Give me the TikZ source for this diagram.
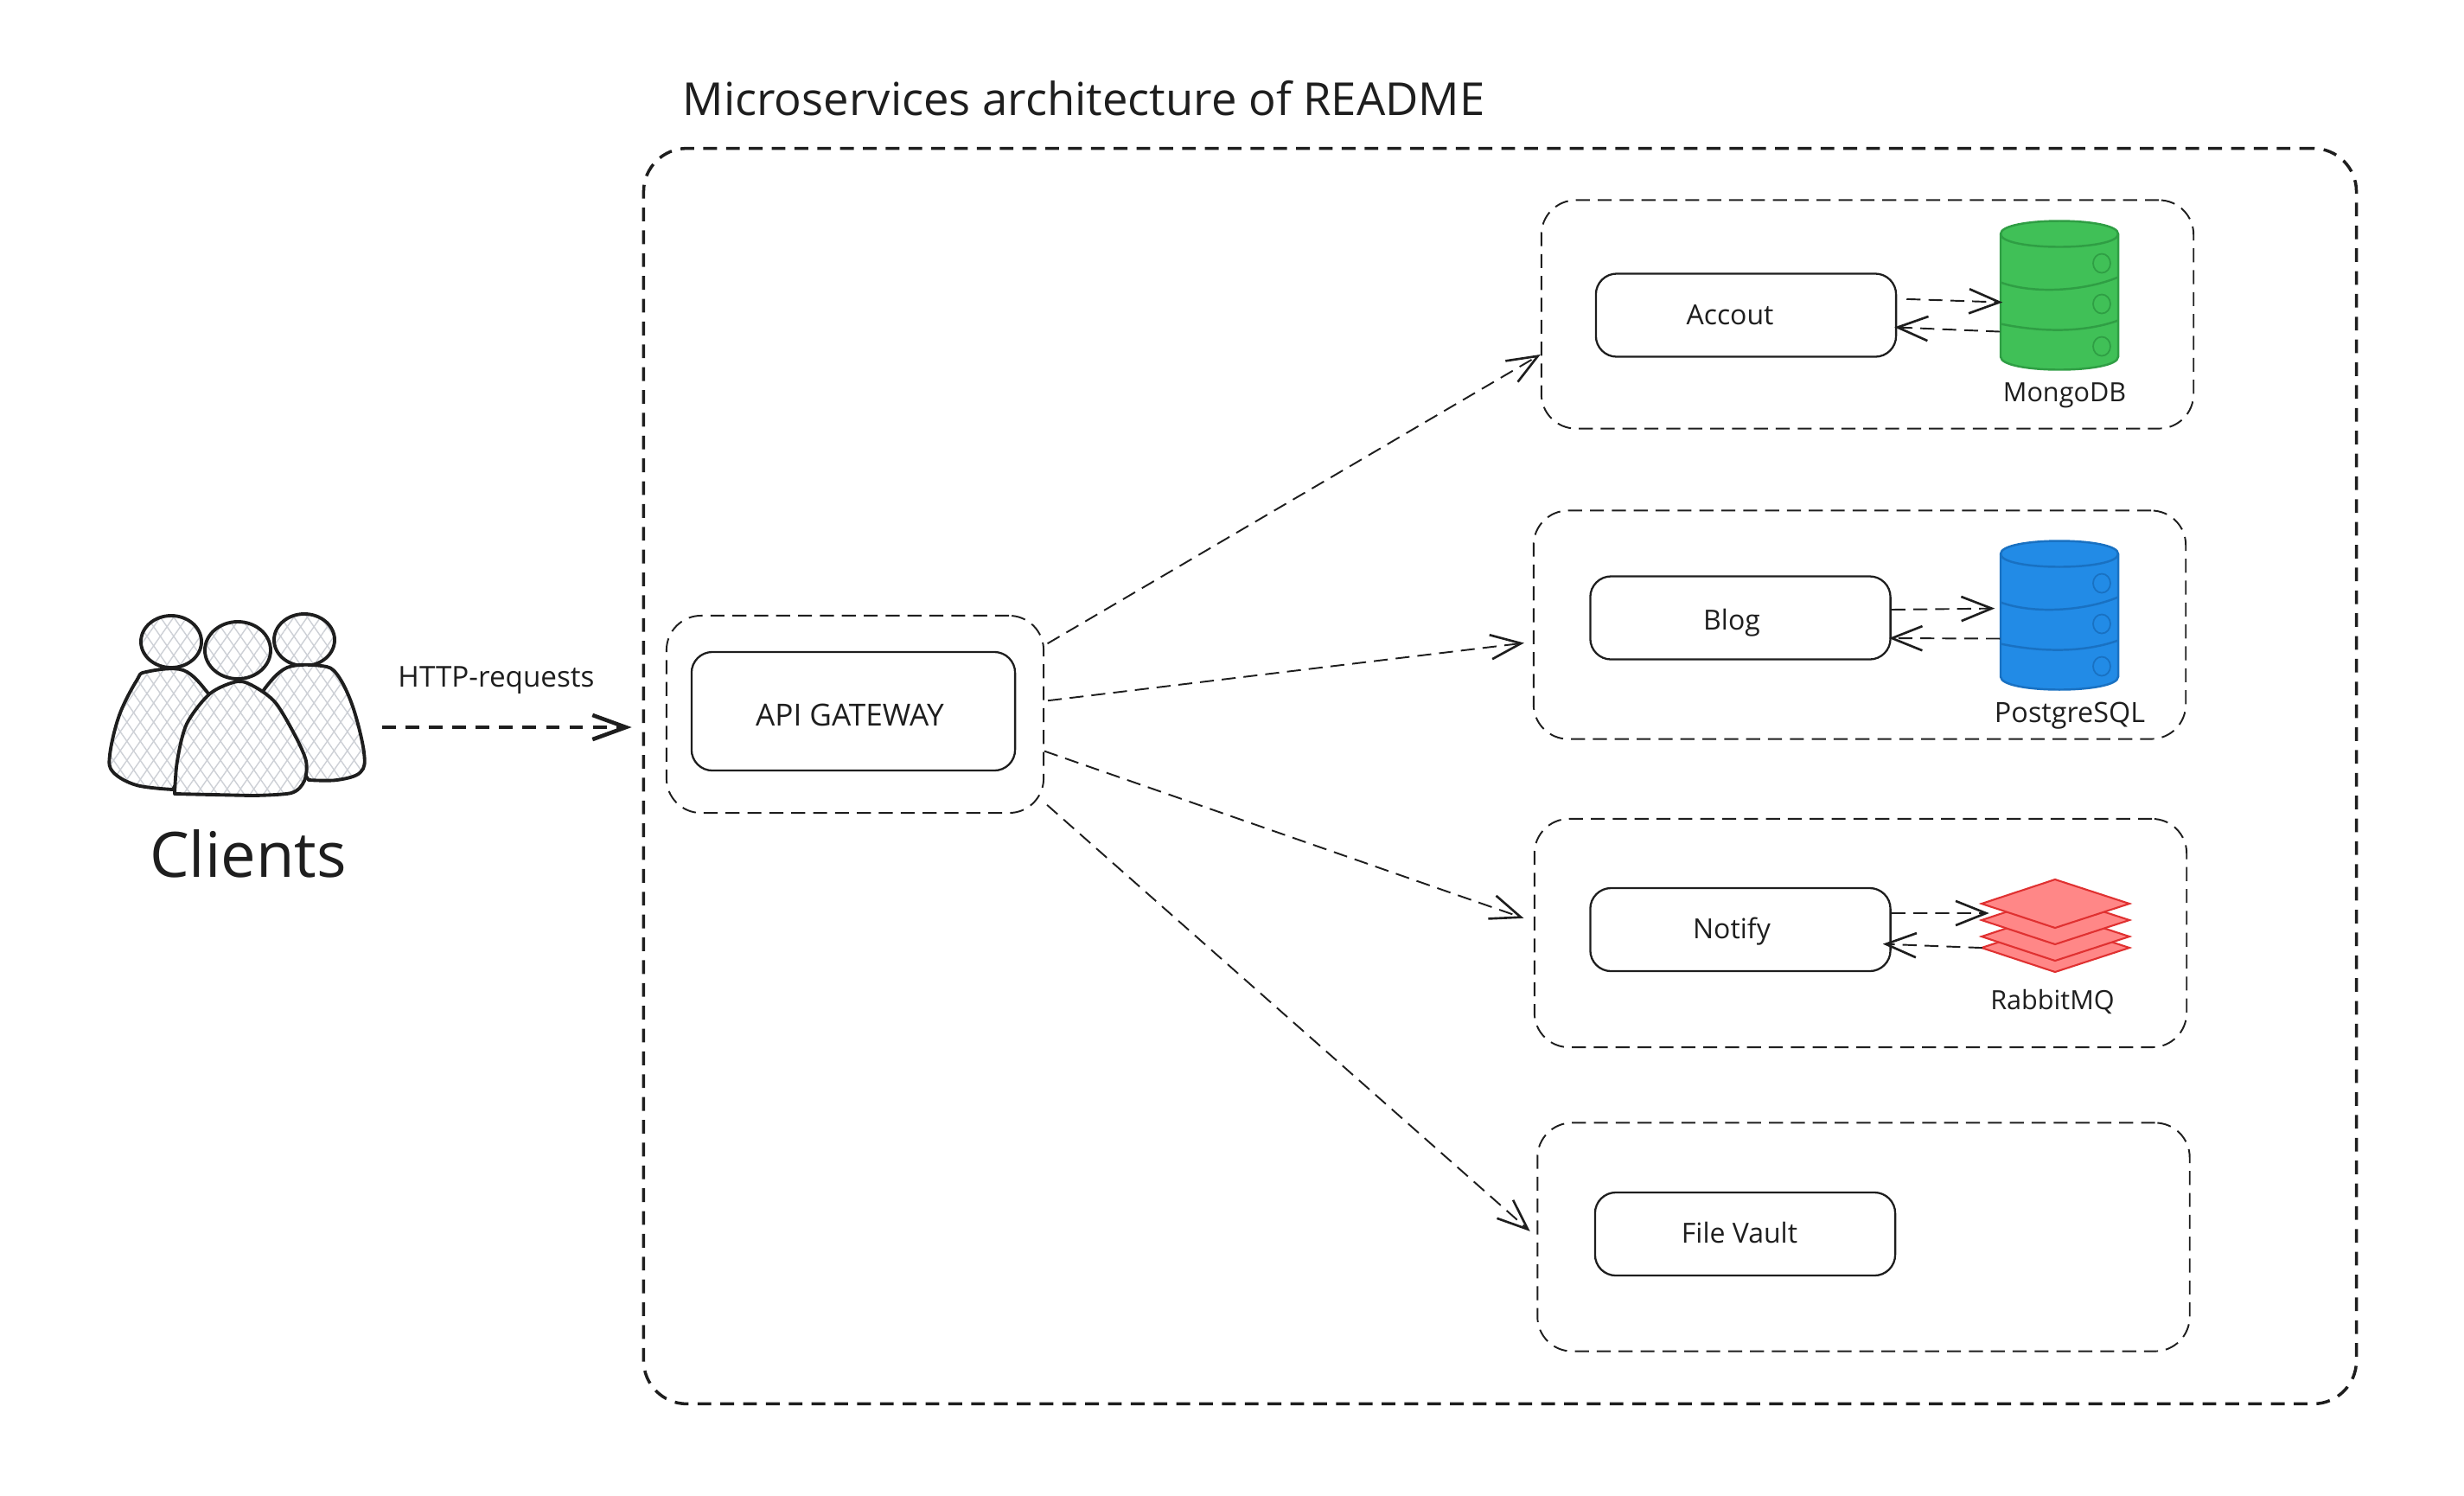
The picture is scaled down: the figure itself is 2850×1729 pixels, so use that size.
\documentclass[tikz,border=0pt]{standalone}
\usepackage{fontspec}
\setmainfont{Open Sans}
\usepackage{xcolor}
\usetikzlibrary{arrows.meta,patterns.meta}
\definecolor{inkline}{HTML}{1E1E1E}
\definecolor{mongofill}{HTML}{40C057}
\definecolor{mongoline}{HTML}{2F9E44}
\definecolor{pgfill}{HTML}{228BE6}
\definecolor{pgline}{HTML}{1971C2}
\definecolor{rabbitfill}{HTML}{FF8787}
\definecolor{rabbitline}{HTML}{E03131}
\definecolor{hatchline}{HTML}{CDD0D6}
\tikzset{
  platformbox/.style={draw=inkline,line width=1pt,dash pattern=on 4.5pt off 3pt,rounded corners=5mm,
    minimum width=198mm,minimum height=145.1mm,inner sep=0pt},
  groupbox/.style={draw=inkline,line width=0.55pt,dash pattern=on 4.6pt off 2.6pt,rounded corners=4mm,
    minimum width=75.4mm,minimum height=26.4mm,inner sep=0pt},
  servicebox/.style={draw=inkline,line width=0.65pt,rounded corners=2.4mm,
    minimum width=34.7mm,minimum height=9.6mm,inner sep=0pt},
  servicelabel/.style={font=\fontsize{9.1}{11}\selectfont,text=inkline,inner sep=0pt},
  dbbox/.style={minimum width=13.6mm,minimum height=17mm,inner sep=0pt},
  dblabel/.style={font=\fontsize{8.7}{10}\selectfont,text=inkline,inner sep=0pt},
  linkarrow/.style={draw=inkline,line width=0.55pt,dash pattern=on 4.6pt off 2.6pt,
    -{Straight Barb[length=10pt,width=8pt,line width=0.75pt]}},
  mainarrow/.style={draw=inkline,line width=1.2pt,dash pattern=on 4.5pt off 3.2pt,
    -{Straight Barb[length=11pt,width=8pt,line width=1.3pt]}},
  person/.style={draw=inkline,line width=1.1pt,line join=round,
    preaction={fill=white},
    preaction={pattern={Lines[angle=55,distance=3.6pt,line width=0.4pt]},pattern color=hatchline},
    preaction={pattern={Lines[angle=-55,distance=3.6pt,line width=0.4pt]},pattern color=hatchline}},
}
\begin{document}
\begin{tikzpicture}[x=0.01cm,y=-0.01cm]
  \useasboundingbox (0,0) rectangle (2850,1729);

  \node[platformbox] (platform) at (1735,897.5) {};
  \node[anchor=west,inner sep=0pt,text=inkline,font=\fontsize{14.95}{17}\selectfont] (title) at (789,114) {Microservices architecture of README};

  \node[groupbox,minimum width=43.6mm,minimum height=22.8mm] (gatewaygroup) at (989,826) {};
  \node[servicebox,minimum width=37.4mm,minimum height=13.7mm] (gateway) at (987,822.5) {};
  \node[servicelabel,font=\fontsize{10}{12}\selectfont] (gatewaylabel) at (983,827) {API GATEWAY};

  \node[groupbox] (accountgroup) at (2160,363.5) {};
  \node[groupbox] (bloggroup) at (2151,722.5) {};
  \node[groupbox] (notifygroup) at (2152,1079) {};
  \node[groupbox] (vaultgroup) at (2155.5,1430.5) {};

  \node[servicebox] (account) at (2019.5,364.5) {};
  \node[servicebox] (blog) at (2013,714.5) {};
  \node[servicebox] (notify) at (2013,1075) {};
  \node[servicebox] (vault) at (2018.5,1427) {};

  \node[servicelabel] (accountlabel) at (2001,364) {Accout};
  \node[servicelabel] (bloglabel) at (2003,720) {Blog};
  \node[servicelabel] (notifylabel) at (2003,1077) {Notify};
  \node[servicelabel] (vaultlabel) at (2012,1425) {File Vault};

  \foreach \dbname/\dbcy/\dbfill/\dbline in {mongo/342.5/mongofill/mongoline,postgres/712.5/pgfill/pgline} {
    \begin{scope}[shift={(2382,\dbcy)}]
      \node[dbbox] (\dbname) at (0,0) {};
      \draw[fill=\dbfill,draw=\dbline,line width=0.7pt] (-68,-72) .. controls (-68,-92) and (68,-92) .. (68,-72) -- (68,70) .. controls (68,90) and (-68,90) .. (-68,70) -- cycle;
      \draw[draw=\dbline,line width=0.7pt] (-68,-72) .. controls (-68,-52) and (68,-52) .. (68,-72);
      \draw[draw=\dbline,line width=0.7pt] (-68,-16) .. controls (-30,-2) and (30,-6) .. (68,-22);
      \draw[draw=\dbline,line width=0.7pt] (-68,32) .. controls (-20,42) and (30,42) .. (68,28);
      \foreach \discy in {-38,9,58}
        \draw[draw=\dbline,line width=0.5pt] (49,\discy) ellipse [x radius=1mm,y radius=1.1mm];
    \end{scope}
  }

  \node[dbbox,minimum width=17.1mm,minimum height=10.6mm] (rabbit) at (2377,1070) {};
  \foreach \layery in {1096,1083,1064,1045}
    \draw[fill=rabbitfill,draw=rabbitline,line width=0.6pt] (2292,\layery) -- (2377,\layery-28) -- (2463,\layery) -- (2377,\layery+28) -- cycle;

  \node[dblabel] (mongolabel) at (2388,457) {MongoDB};
  \node[dblabel,font=\fontsize{9.2}{11}\selectfont] (postgreslabel) at (2394,828) {PostgreSQL};
  \node[dblabel] (rabbitlabel) at (2374,1158) {RabbitMQ};

  \draw[linkarrow,shorten <=1.1mm,shorten >=-0.3mm] ([yshift=1.9mm]account.east) -- ([yshift=-0.7mm]mongo.west);
  \draw[linkarrow,shorten >=-0.3mm] ([yshift=-4.1mm]mongo.west) -- ([yshift=-1.4mm]account.east);
  \draw[linkarrow,shorten >=0.6mm] ([yshift=0.95mm]blog.east) -- ([yshift=0.9mm]postgres.west);
  \draw[linkarrow,shorten >=-0.3mm] ([yshift=-2.6mm]postgres.west) -- ([yshift=-2.35mm]blog.east);
  \draw[linkarrow,shorten >=-1mm] ([yshift=1.9mm]notify.east) -- ([yshift=1.4mm]rabbit.west);
  \draw[linkarrow,shorten >=-1mm,shorten <=-0.2mm] ([yshift=-2.6mm]rabbit.west) -- ([yshift=-1.7mm]notify.east);

  \draw[linkarrow,shorten <=0.4mm] (gatewaygroup.20.4) -- (accountgroup.187);
  \draw[linkarrow,shorten <=0.4mm,shorten >=1mm] (gatewaygroup.4) -- (bloggroup.183);
  \draw[linkarrow,shorten >=1.2mm] (gatewaygroup.-11.7) -- (notifygroup.178);
  \draw[linkarrow,shorten <=0.4mm,shorten >=1mm] (gatewaygroup.-25) -- (vaultgroup.west);

  \draw[person] (198,742) ellipse [x radius=3.5mm,y radius=3mm];
  \draw[person] (352,740) ellipse [x radius=3.5mm,y radius=3mm];
  \draw[person] plot[smooth,tension=0.6] coordinates {(200,913) (158,908) (131,893) (127,873) (138,827) (158,787) (169,777) (212,775) (241,802) (250,820)} -- cycle;
  \draw[person] plot[smooth,tension=0.6] coordinates {(357,902) (390,902) (417,893) (421,870) (408,817) (390,780) (372,770) (332,772) (305,798) (300,815)} -- cycle;
  \draw[person] (275,752) ellipse [x radius=3.8mm,y radius=3.3mm];
  \draw[person] plot[smooth,tension=0.5] coordinates {(202,918) (205,880) (216,837) (243,802) (275,788) (296,795) (319,813) (341,850) (354,880) (352,903) (337,917) (292,920)} -- cycle;

  \node[inner sep=0pt,text=inkline,font=\fontsize{20.6}{24}\selectfont] (clients) at (287,987) {Clients};
  \node[inner sep=0pt,text=inkline,font=\fontsize{9.45}{11}\selectfont] (requests) at (574,787) {HTTP-requests};

  \coordinate (clientsout) at (442,841);
  \draw[mainarrow,shorten >=1.2mm] (clientsout) -- (clientsout -| platform.west);
\end{tikzpicture}
\end{document}
